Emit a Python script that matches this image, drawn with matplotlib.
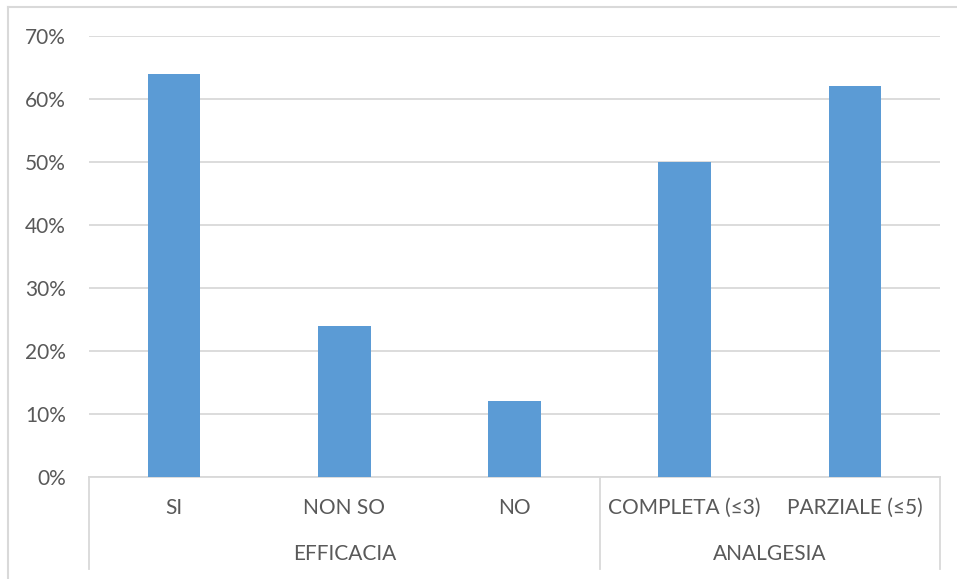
import numpy as np
import matplotlib.pyplot as plt
from matplotlib.transforms import blended_transform_factory

plt.rcParams['font.family'] = ['Lato', 'DejaVu Sans']

# data
categories = ['SI', 'NON SO', 'NO', 'COMPLETA (≤3)', 'PARZIALE (≤5)']
values = [64, 24, 12, 50, 62]
groups = ['EFFICACIA', 'ANALGESIA']
group_sizes = [3, 2]
yticks = [0, 10, 20, 30, 40, 50, 60, 70]

text_col = '#595959'
grid_col = '#D9D9D9'
bar_col = '#5B9BD5'

fig = plt.figure(figsize=(9.57, 5.79), dpi=100)
ax = fig.add_axes([89 / 957, 1 - 477 / 579, (940 - 89) / 957, (477 - 36) / 579])

x = np.arange(len(categories))
ax.bar(x, values, width=0.31, color=bar_col, zorder=3)

ax.set_xlim(-0.5, len(categories) - 0.5)
ax.set_ylim(0, 70)
ax.set_yticks(yticks)
ax.set_yticklabels([str(t) + '%' for t in yticks])
ax.tick_params(axis='y', length=0, pad=16.5, labelsize=15, labelcolor=text_col)
ax.set_xticks([])
ax.grid(axis='y', color=grid_col, linewidth=1.3, zorder=0)
for s in ['top', 'right', 'left']:
    ax.spines[s].set_visible(False)
ax.spines['bottom'].set_color(grid_col)
ax.spines['bottom'].set_linewidth(1.3)

# multi-level category axis
tr = blended_transform_factory(ax.transData, ax.transAxes)
px = 1 / 441.0
for i, c in enumerate(categories):
    ax.text(i, -31 * px, c, transform=tr, ha='center', va='center',
            fontsize=15, color=text_col)

start = 0
bounds = [-0.5]
for g, n in zip(groups, group_sizes):
    mid = start + (n - 1) / 2
    ax.text(mid, -77 * px, g, transform=tr, ha='center', va='center',
            fontsize=15, color=text_col)
    start += n
    bounds.append(start - 0.5)
for b in bounds:
    ax.plot([b, b], [0, -92 * px], transform=tr, color=grid_col,
            linewidth=1.3, clip_on=False)

# chart border (top and left visible)
fig.add_artist(plt.Line2D([8 / 957, 1], [1 - 7 / 579, 1 - 7 / 579],
                          color=grid_col, linewidth=1.5))
fig.add_artist(plt.Line2D([8 / 957, 8 / 957], [0, 1 - 7 / 579],
                          color=grid_col, linewidth=1.5))

fig.savefig('out.png', dpi=100)
